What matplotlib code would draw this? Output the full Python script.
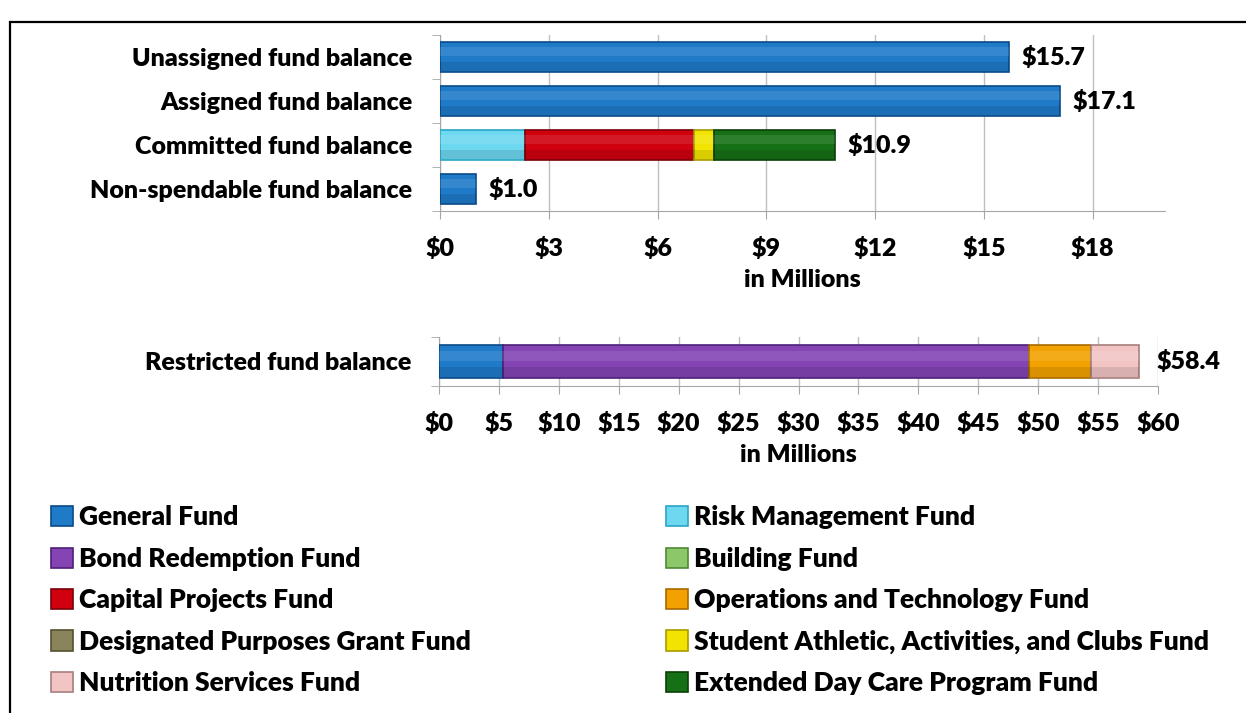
import matplotlib
matplotlib.use('Agg')
import matplotlib.pyplot as plt
from matplotlib.patches import Patch, Rectangle
from matplotlib.ticker import FixedLocator
import numpy as np

plt.rcParams['font.family'] = ['Lato', 'DejaVu Sans']
plt.rcParams['font.weight'] = 'heavy'
plt.rcParams['axes.labelweight'] = 'heavy'

# Data (in millions)
top_categories = ['Unassigned fund balance', 'Assigned fund balance',
                  'Committed fund balance', 'Non-spendable fund balance']
bottom_categories = ['Restricted fund balance']

funds = ['General Fund', 'Risk Management Fund', 'Bond Redemption Fund', 'Building Fund',
         'Capital Projects Fund', 'Operations and Technology Fund',
         'Designated Purposes Grant Fund', 'Student Athletic, Activities, and Clubs Fund',
         'Nutrition Services Fund', 'Extended Day Care Program Fund']

general_top = [15.7, 17.1, 0, 1.0]
risk_top = [0, 0, 2.35, 0]
capital_top = [0, 0, 4.65, 0]
student_top = [0, 0, 0.55, 0]
extended_top = [0, 0, 3.35, 0]

general_restricted = [5.3]
bond_restricted = [43.9]
operations_restricted = [5.2]
nutrition_restricted = [4.0]

top_ticks = [0, 3, 6, 9, 12, 15, 18]
bottom_ticks = [0, 5, 10, 15, 20, 25, 30, 35, 40, 45, 50, 55, 60]

colors = ['#1F7BC8', '#6ED8F0', '#8444B4', '#8CC86A', '#D0000E', '#F2A200',
          '#8A845C', '#F2E400', '#F2C4C4', '#167016']
edges = ['#0B4A86', '#2AA6C4', '#4E1F78', '#4E8A34', '#7A0008', '#A86A00',
         '#55502F', '#A89C00', '#A87E7E', '#0A400A']

zero = [0] * len(top_categories)
top_series = [general_top, risk_top, zero, zero, capital_top, zero, zero,
              student_top, zero, extended_top]
zero1 = [0]
bottom_series = [general_restricted, zero1, bond_restricted, zero1, zero1,
                 operations_restricted, zero1, zero1, nutrition_restricted, zero1]

W, H = 1246, 713
fig = plt.figure(figsize=(W / 100, H / 100), dpi=100)
ax1 = fig.add_axes([440 / W, 1 - 211 / H, 725 / W, 176 / H])
ax2 = fig.add_axes([439 / W, 1 - 386 / H, 719 / W, 49 / H])

grid_c = '#BFBFBF'
spine_c = '#A6A6A6'
fs = 18


def draw(ax, cats, series, height):
    y = np.arange(len(cats))
    left = np.zeros(len(cats))
    for vals, c, e in zip(series, colors, edges):
        vals = np.array(vals, dtype=float)
        mask = vals > 0
        if mask.any():
            ax.barh(y[mask], vals[mask], left=left[mask], height=height,
                    color=c, edgecolor=e, linewidth=1.2, zorder=3)
            # light upper band, darker lower band for a glossy look
            ax.barh(y[mask] - height * 0.17, vals[mask], left=left[mask],
                    height=height * 0.3, color='white', alpha=0.10,
                    linewidth=0, zorder=4)
            ax.barh(y[mask] + height * 0.33, vals[mask], left=left[mask],
                    height=height * 0.3, color='black', alpha=0.10,
                    linewidth=0, zorder=4)
        left += vals
    return y, left


y1, tot1 = draw(ax1, top_categories, top_series, 0.68)
ax1.set_yticks(y1)
ax1.set_yticklabels(top_categories, fontsize=fs)
ax1.set_ylim(3.5, -0.5)
ax1.set_xlim(0, 20)
ax1.set_xticks(top_ticks)
ax1.set_xticklabels([f'${t}' for t in top_ticks], fontsize=fs)
ax1.set_xlabel('in Millions', fontsize=fs, labelpad=6)
for yy, t in zip(y1, tot1):
    ax1.annotate(f'${t:.1f}', xy=(t, yy), xytext=(9, 0), textcoords='offset points',
                 va='center', ha='left', fontsize=fs)

y2, tot2 = draw(ax2, bottom_categories, bottom_series, 0.66)
ax2.set_yticks(y2)
ax2.set_yticklabels(bottom_categories, fontsize=fs)
ax2.set_ylim(0.5, -0.5)
ax2.set_xlim(0, 60)
ax2.set_xticks(bottom_ticks)
ax2.set_xticklabels([f'${t}' for t in bottom_ticks], fontsize=fs)
ax2.set_xlabel('in Millions', fontsize=fs, labelpad=6)
for yy, t in zip(y2, tot2):
    ax2.annotate(f'${t:.1f}', xy=(t, yy), xytext=(13, 0), textcoords='offset points',
                 va='center', ha='left', fontsize=fs)

for ax, n in ((ax1, len(top_categories)), (ax2, len(bottom_categories))):
    ax.spines['top'].set_visible(False)
    ax.spines['right'].set_visible(False)
    ax.spines['left'].set_color(spine_c)
    ax.spines['bottom'].set_color(spine_c)
    ax.xaxis.grid(True, color=grid_c, linewidth=1)
    ax.set_axisbelow(True)
    ax.tick_params(axis='x', length=6, color=spine_c, pad=13)
    ax.tick_params(axis='y', which='major', length=0, pad=20)
    ax.yaxis.set_minor_locator(FixedLocator(np.arange(n + 1) - 0.5))
    ax.tick_params(axis='y', which='minor', length=6, color=spine_c)

# Legend in two columns, row order follows the fund list
handles = [Patch(facecolor=c, edgecolor=e, linewidth=1.2) for c, e in zip(colors, edges)]
left_idx = list(range(0, len(funds), 2))
right_idx = list(range(1, len(funds), 2))
for idx, xpos in ((left_idx, 33 / W), (right_idx, 648 / W)):
    fig.legend([handles[i] for i in idx], [funds[i] for i in idx],
               loc='upper left', bbox_to_anchor=(xpos, 1 - 487 / H), frameon=False,
               fontsize=fs + 1, handlelength=0.8, handleheight=0.8, handletextpad=0.25,
               labelspacing=0.66, borderpad=0.2)

# outer frame
fig.patches.append(Rectangle((10 / W, -0.05), 1.1, 1 - 22 / H + 0.05,
                             transform=fig.transFigure, fill=False,
                             edgecolor='black', linewidth=1.6))

fig.savefig('out.png', dpi=100, facecolor='white')
